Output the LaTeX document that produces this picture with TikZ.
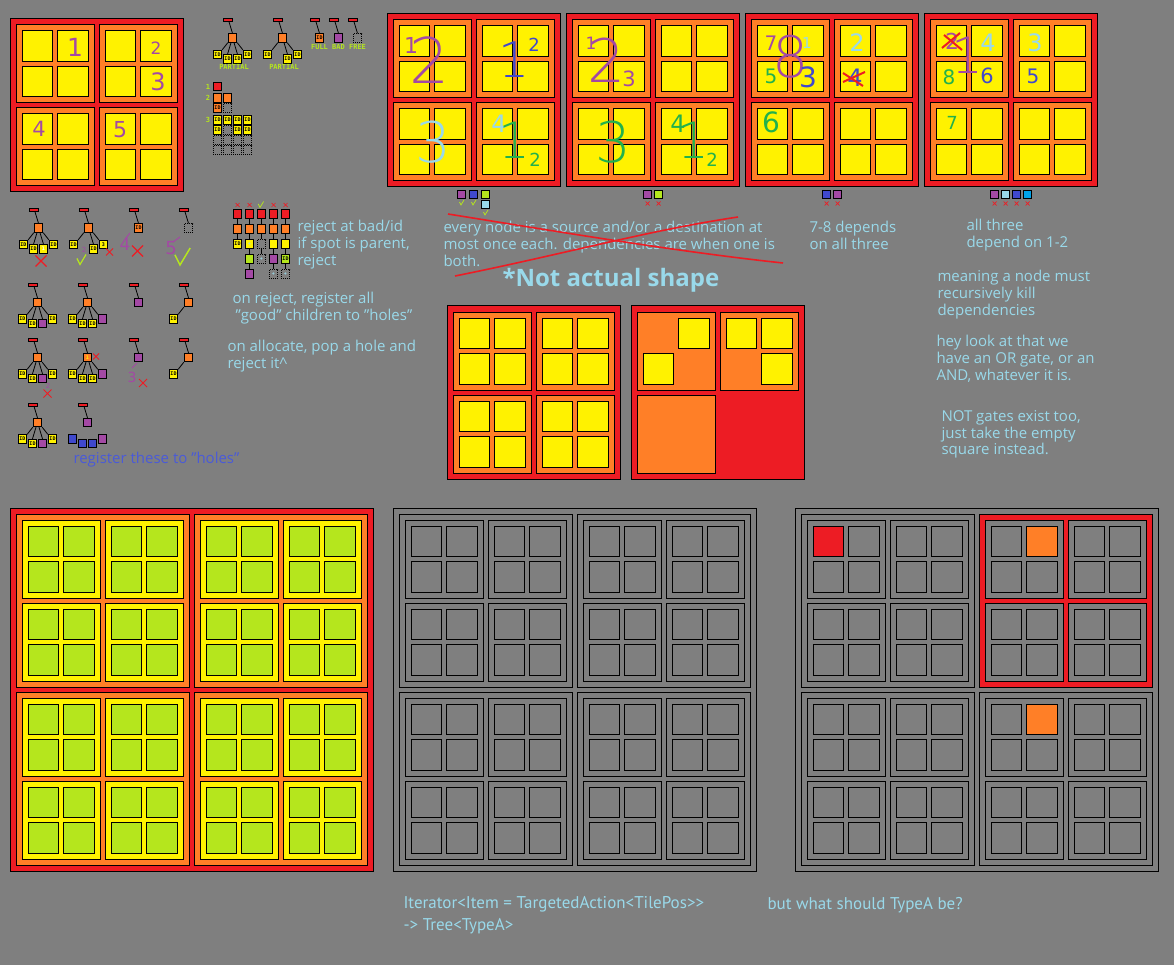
\documentclass[tikz,border=0pt]{standalone}
\usepackage{fontspec}
\setmainfont{Open Sans}
\newfontfamily\codefont{PT Sans}
\newfontfamily\pixfont{DejaVu Sans Mono}
\newfontfamily\handfont{DejaVu Sans ExtraLight}
\newfontfamily\smallhand{DejaVu Sans}
\usetikzlibrary{positioning}
\definecolor{pgray}{HTML}{7F7F7F}
\definecolor{pred}{HTML}{ED1C24}
\definecolor{porange}{HTML}{FF7F27}
\definecolor{pyellow}{HTML}{FFF200}
\definecolor{plime}{HTML}{B5E61D}
\definecolor{ppurple}{HTML}{A349A4}
\definecolor{pblue}{HTML}{3F48CC}
\definecolor{plblue}{HTML}{99D9EA}
\definecolor{pgreen}{HTML}{22B14C}
\definecolor{pcyan}{HTML}{00A2E8}
\definecolor{holeblue}{HTML}{4A5AD8}

\tikzset{
  tile/.style={draw=black, line width=0.8pt, minimum size=8.5pt, inner sep=0pt},
  lbl/.style={font=\pixfont\bfseries\fontsize{5}{5}\selectfont, inner sep=0pt},
  rtile/.style={tile, fill=pred},
  otile/.style={tile, fill=porange},
  ytile/.style={tile, fill=pyellow},
  gtile/.style={tile, fill=plime},
  ptile/.style={tile, fill=ppurple},
  btile/.style={tile, fill=pblue},
  ltile/.style={tile, fill=plblue},
  ctile/.style={tile, fill=pcyan},
  hole/.style={tile, dash pattern=on 1pt off 1pt},
  idt/.style={ytile, label={[lbl]center:ID}},
  oid/.style={otile, label={[lbl]center:ID}},
  gid/.style={gtile, label={[lbl]center:ID}},
  yone/.style={ytile, label={[lbl, text=white]center:1}},
  ythree/.style={ytile, label={[lbl]center:3}},
  oone/.style={otile, label={[lbl, text=pyellow]center:1}},
  yplus/.style={ytile, label={[lbl, text=plblue]center:+}},
  hplus/.style={hole, label={[lbl, text=plblue]center:+}},
  rootbar/.style={draw=black, fill=pred, line width=0.6pt, minimum width=9pt, minimum height=3pt, inner sep=0pt},
  link/.style={line width=0.8pt},
  nolink/.style={draw=none},
  tagtxt/.style={font=\pixfont\bfseries\fontsize{7}{7}\selectfont, text=plime, inner sep=0pt},
  note/.style={text=plblue, font=\fontsize{15}{16.7}\selectfont, align=left, anchor=north west, inner sep=0pt},
  codetxt/.style={text=plblue, font=\codefont\fontsize{17}{22}\selectfont, align=left, anchor=north west, inner sep=0pt},
  hand/.style={inner sep=0pt},
}

% boards: leaf 30.5, padding 6, gap 5
\newcommand{\leafsq}[3]{\filldraw[fill=#3] (#1,#2) rectangle ++(30.5,30.5);}
\newcommand{\blockone}[4]{%
  \filldraw[fill=#3] (#1,#2) rectangle ++(78,78);
  \foreach \a in {0,1} {\foreach \b in {0,1} {\leafsq{#1+6+35.5*\a}{#2+6+35.5*\b}{#4}}}}
\newcommand{\blocktwo}[5]{%
  \filldraw[fill=#3] (#1,#2) rectangle ++(173,173);
  \foreach \c in {0,1} {\foreach \d in {0,1} {\blockone{#1+6+83*\c}{#2+6+83*\d}{#4}{#5}}}}
\newcommand{\blockthree}[6]{%
  \filldraw[fill=#3] (#1,#2) rectangle ++(363,363);
  \foreach \e in {0,1} {\foreach \f in {0,1} {\blocktwo{#1+6+178*\e}{#2+6+178*\f}{#4}{#5}{#6}}}}

% tree: name, x, y, root, four children, link style
\def\nokid{none}
\newcommand{\ptree}[9]{%
  \node[rootbar] (#1-bar) at (#2-5,#3-18) {};
  \node[#4] (#1-r) at (#2,#3) {};
  \draw[link] ([xshift=1.5pt]#1-bar.south) -- (#1-r.north);
  \def\kid{#5}\ifx\kid\nokid\else
    \node[#5] (#1-1) at (#2-15,#3+16.5) {};
    \draw[link,#9] (#1-r.south west) -- (#1-1.north east);\fi
  \def\kid{#6}\ifx\kid\nokid\else
    \node[#6] (#1-2) at (#2-5,#3+21) {};
    \draw[link,#9] ([xshift=-1.5pt]#1-r.south) -- (#1-2.north);\fi
  \def\kid{#7}\ifx\kid\nokid\else
    \node[#7] (#1-3) at (#2+5,#3+21) {};
    \draw[link,#9] ([xshift=1.5pt]#1-r.south) -- (#1-3.north);\fi
  \def\kid{#8}\ifx\kid\nokid\else
    \node[#8] (#1-4) at (#2+15,#3+16.5) {};
    \draw[link,#9] (#1-r.south east) -- (#1-4.north west);\fi}

\newcommand{\redx}[4]{\draw[pred, line width=#4] (#1-#3,#2-#3) -- (#1+#3,#2+#3) (#1-#3,#2+#3) -- (#1+#3,#2-#3);}
\newcommand{\tick}[4]{\draw[plime, line width=#4] (#1-0.3*#3,#2-0.6*#3) -- (#1,#2) -- (#1+0.6*#3,#2-#3);}
% big scribbles thin, small ones in the book weight
\newcommand{\hdig}[6]{%
  \ifdim#5pt<40pt\def\hf{\smallhand}\else\def\hf{\handfont}\fi
  \node[hand, text=#4, font=\hf\fontsize{#5}{#5}\selectfont] (#1) at (#2,#3) {#6};}

\begin{document}
\begin{tikzpicture}[x=1pt, y=-1pt, line width=1pt]
\useasboundingbox (0,0) rectangle (1174,965);
\fill[pgray] (0,0) rectangle (1174,965);

% top boards
\blocktwo{10}{19}{pred}{porange}{pyellow}
\foreach \bx in {387,566,745,924}
  {\blocktwo{\bx}{14}{pred}{porange}{pyellow}}

% middle boards
\blocktwo{447}{306}{pred}{porange}{pyellow}
\filldraw[fill=pred] (631,306) rectangle ++(173,173);
\filldraw[fill=porange] (637,312) rectangle ++(78,78);
\leafsq{678.5}{318}{pyellow}
\leafsq{643}{353.5}{pyellow}
\filldraw[fill=porange] (720,312) rectangle ++(78,78);
\leafsq{726}{318}{pyellow}
\leafsq{761.5}{318}{pyellow}
\leafsq{761.5}{353.5}{pyellow}
\filldraw[fill=porange] (637,395) rectangle ++(78,78);

% bottom boards
\blockthree{10}{508}{pred}{porange}{pyellow}{plime}
\blockthree{393}{508}{pgray}{pgray}{pgray}{pgray}
\blockthree{795}{508}{pgray}{pgray}{pgray}{pgray}
\blocktwo{979}{514}{pred}{pgray}{pgray}
\leafsq{813}{526}{pred}
\leafsq{1026.5}{526}{porange}
\leafsq{1026.5}{704}{porange}

% handwriting on the top-left board
\hdig{tl1}{75}{47}{ppurple}{25}{1}
\hdig{tl2}{156}{48}{ppurple}{17}{2}
\hdig{tl3}{158}{82}{ppurple}{24}{3}
\hdig{tl4}{39}{129}{ppurple}{21}{4}
\hdig{tl5}{120}{130}{ppurple}{22}{5}

% handwriting on the top row boards
\hdig{b2a}{411}{45}{ppurple}{22}{1}
\hdig{b2b}{430}{60}{ppurple}{63}{2}
\hdig{b2c}{514}{60}{pblue}{49}{1}
\hdig{b2d}{534}{45}{pblue}{18}{2}
\hdig{b2e}{433}{142}{plblue}{56}{3}
\hdig{b2f}{499}{124}{plblue}{24}{4}
\hdig{b2g}{514}{140}{pgreen}{50}{1}
\hdig{b2h}{535}{160}{pgreen}{18}{2}

\hdig{b3a}{591}{43}{ppurple}{17}{1}
\hdig{b3b}{607}{60}{ppurple}{60}{2}
\hdig{b3c}{629}{79}{ppurple}{21}{3}
\hdig{b3d}{613}{142}{pgreen}{56}{3}
\hdig{b3e}{678}{124}{pgreen}{24}{4}
\hdig{b3f}{693}{140}{pgreen}{50}{1}
\hdig{b3g}{712}{160}{pgreen}{18}{2}

\hdig{b4a}{771}{43}{ppurple}{20}{7}
\hdig{b4b}{791}{57}{ppurple}{57}{8}
\hdig{b4c}{807}{43}{plblue}{15}{1}
\hdig{b4d}{771}{76}{pgreen}{20}{5}
\hdig{b4e}{808}{77}{pblue}{28}{3}
\hdig{b4f}{857}{43}{plblue}{24}{2}
\hdig{b4g}{855}{78}{pblue}{24}{4}
\hdig{b4h}{771}{122}{pgreen}{28}{6}
\draw[pred, line width=2pt] (843,82) -- (865,72) (843,73) -- (863,86);

\hdig{b5a}{952}{41}{ppurple}{22}{2}
\draw[pred, line width=2pt] (942,48) -- (960,33) (944,35) -- (962,50);
\hdig{b5b}{967}{55}{ppurple}{50}{1}
\hdig{b5c}{988}{43}{plblue}{24}{4}
\hdig{b5d}{949}{77}{pgreen}{20}{8}
\hdig{b5e}{987}{76}{pblue}{21}{6}
\hdig{b5f}{1035}{43}{plblue}{24}{3}
\hdig{b5g}{1033}{76}{pblue}{20}{5}
\hdig{b5h}{952}{123}{pgreen}{18}{7}

% colour keys under the top row boards
\foreach \s [count=\k from 0] in {ptile,btile,gtile}
  \node[\s] (k2-\k) at (461.5+12*\k,194.5) {};
\node[ltile] (k2-3) at (485.5,204.5) {};
\tick{461}{205}{5}{0.7pt}
\tick{473}{205}{5}{0.7pt}
\tick{485}{215}{5}{0.7pt}
\foreach \s [count=\k from 0] in {ptile,gtile}
  {\node[\s] (k3-\k) at (647.5+11*\k,194.5) {};
   \redx{647.5+11*\k}{203.5}{2}{0.7pt}}
\foreach \s [count=\k from 0] in {btile,ptile}
  {\node[\s] (k4-\k) at (826.5+11*\k,194.5) {};
   \redx{826.5+11*\k}{203.5}{2}{0.7pt}}
\foreach \s [count=\k from 0] in {ptile,ltile,btile,ctile}
  {\node[\s] (k5-\k) at (994.5+11*\k,194.5) {};
   \redx{994.5+11*\k}{203.5}{2}{0.7pt}}

% legend trees
\ptree{full1}{232.5}{38}{otile}{idt}{idt}{idt}{idt}{link}
\ptree{part2}{282.5}{38}{otile}{idt}{none}{idt}{idt}{link}
\ptree{full}{319.5}{38}{oid}{none}{none}{none}{none}{link}
\ptree{bad}{338.5}{38}{ptile}{none}{none}{none}{none}{link}
\ptree{free}{357.5}{38}{hole}{none}{none}{none}{none}{link}
\node[tagtxt] (lab1) at (234,67) {PARTIAL};
\node[tagtxt] (lab2) at (284,67) {PARTIAL};
\node[tagtxt] (lab3) at (319.5,47) {FULL};
\node[tagtxt] (lab4) at (338.5,47) {BAD};
\node[tagtxt] (lab5) at (357.5,47) {FREE};

% levels
\node[tagtxt] (lv1t) at (208,87) {1};
\node[tagtxt] (lv2t) at (208,98) {2};
\node[tagtxt] (lv3t) at (208,120) {3};
\node[rtile] (lv1) at (217.5,86.5) {};
\foreach \s [count=\k from 0] in {otile,otile,oid,hole}
  \node[\s] (lv2-\k) at ({217.5+10*mod(\k,2)},{98+10*int(\k/2)}) {};
\foreach \s [count=\k from 0] in {idt,idt,idt,idt,idt,hole,idt,idt,hole,hole,hole,hole,hole,hole,hole,hole}
  \node[\s] (lv3-\k) at ({217.5+10*mod(\k,4)},{120+10*int(\k/4)}) {};

% example trees
\ptree{ta}{38.5}{228}{otile}{idt}{idt}{yone}{idt}{link}
\ptree{tb}{88.5}{228}{otile}{idt}{none}{idt}{ythree}{link}
\ptree{tc}{138.5}{228}{oid}{none}{none}{none}{none}{link}
\ptree{td}{188.5}{228}{hole}{none}{none}{none}{none}{link}
\ptree{te}{37.5}{302.5}{otile}{idt}{idt}{ptile}{idt}{link}
\ptree{tf}{87.5}{302.5}{otile}{idt}{idt}{idt}{ptile}{link}
\ptree{tg}{138.5}{302.5}{ptile}{none}{none}{none}{none}{link}
\ptree{th}{188.5}{302.5}{otile}{idt}{none}{none}{none}{link}
\ptree{ti}{37.5}{357.5}{otile}{idt}{idt}{ptile}{idt}{link}
\ptree{tj}{87.5}{357.5}{oone}{idt}{idt}{idt}{ptile}{link}
\ptree{tk}{138.5}{357.5}{ptile}{none}{none}{none}{none}{link}
\ptree{tl}{188.5}{357.5}{otile}{idt}{none}{none}{none}{link}
\ptree{tm}{37.5}{422.5}{otile}{idt}{idt}{ptile}{idt}{link}
\ptree{tn}{87.5}{422.5}{ptile}{btile}{btile}{btile}{ptile}{nolink}

% marks on the example trees
\redx{41}{261}{5.5}{1.2pt}
\redx{109.5}{252}{3.5}{1pt}
\redx{137.5}{251}{5.5}{1.2pt}
\redx{47.5}{393.5}{4}{1pt}
\redx{96}{356.5}{3}{1pt}
\redx{143}{383}{4}{1pt}
\tick{80}{264.5}{10}{1.2pt}
\tick{180}{265}{17}{1.5pt}
\hdig{pa}{84}{250}{ppurple}{7}{2}
\hdig{pb}{125}{244}{ppurple}{17}{4}
\hdig{pc}{171}{248}{ppurple}{18}{5}
\hdig{pd}{48}{386}{ppurple}{7}{2}
\hdig{pe}{132}{377}{ppurple}{14}{3}
\draw[ppurple, line width=1pt] (126,238) -- (130,233) (173,242) -- (180,237) (132,368) -- (137,363);

% reject chains
\foreach \c/\x/\cells in {1/237.5/{rtile,otile,idt},
                          2/249.5/{rtile,otile,yplus,gtile,ptile},
                          3/261.5/{rtile,otile,hole,hplus},
                          4/273.5/{rtile,otile,ytile,ptile,hplus},
                          5/285.5/{rtile,otile,ytile,gid,hplus}}
  {\foreach \s [count=\r, remember=\r as \lastr (initially 0)] in \cells {
    \node[\s] (ch\c-\r) at (\x,199+15*\r) {};
    \ifnum\r>1 \draw[link] (ch\c-\lastr.south) -- (ch\c-\r.north); \fi
  }}
\foreach \x in {237.5,249.5,273.5,285.5}
  {\redx{\x}{205}{2}{0.7pt}}
\tick{260}{207.5}{6}{0.7pt}

% notes
\node[note] (n-rej) at (297,220) {reject at bad/id\\if spot is parent,\\reject};
\node[note] (n-reg) at (232,292) {on reject, register all\\\hspace{3pt}"good" children to "holes"};
\node[note] (n-alloc) at (227,340) {on allocate, pop a hole and\\reject it\textasciicircum};
\node[note, text=holeblue] (n-holes) at (73,452) {register these to "holes"};
\node[note] (n-every) at (443,221) {every node is a source and/or a destination at\\most once each. dependencies are when one is\\both.};
\draw[pred, line width=1.6pt] (448,214) .. controls (560,232) and (680,252) .. (783,263);
\draw[pred, line width=1.6pt] (455,276) .. controls (560,255) and (650,230) .. (738,217);
\node[note, font=\bfseries\fontsize{24}{24}\selectfont] (n-shape) at (502,268) {*Not actual shape};
\node[note] (n-78) at (809,221) {7-8 depends\\on all three};
\node[note] (n-all) at (966,219) {all three\\depend on 1-2};
\node[note] (n-mean) at (937,270) {meaning a node must\\recursively kill\\dependencies};
\node[note] (n-gate) at (936,335) {hey look at that we\\have an OR gate, or an\\AND, whatever it is.};
\node[note] (n-not) at (941,410) {NOT gates exist too,\\just take the empty\\square instead.};
\node[codetxt] (n-iter) at (403,896) {Iterator<Item = TargetedAction<TilePos>>\\-> Tree<TypeA>};
\node[codetxt] (n-what) at (767,897) {but what should TypeA be?};
\end{tikzpicture}
\end{document}
